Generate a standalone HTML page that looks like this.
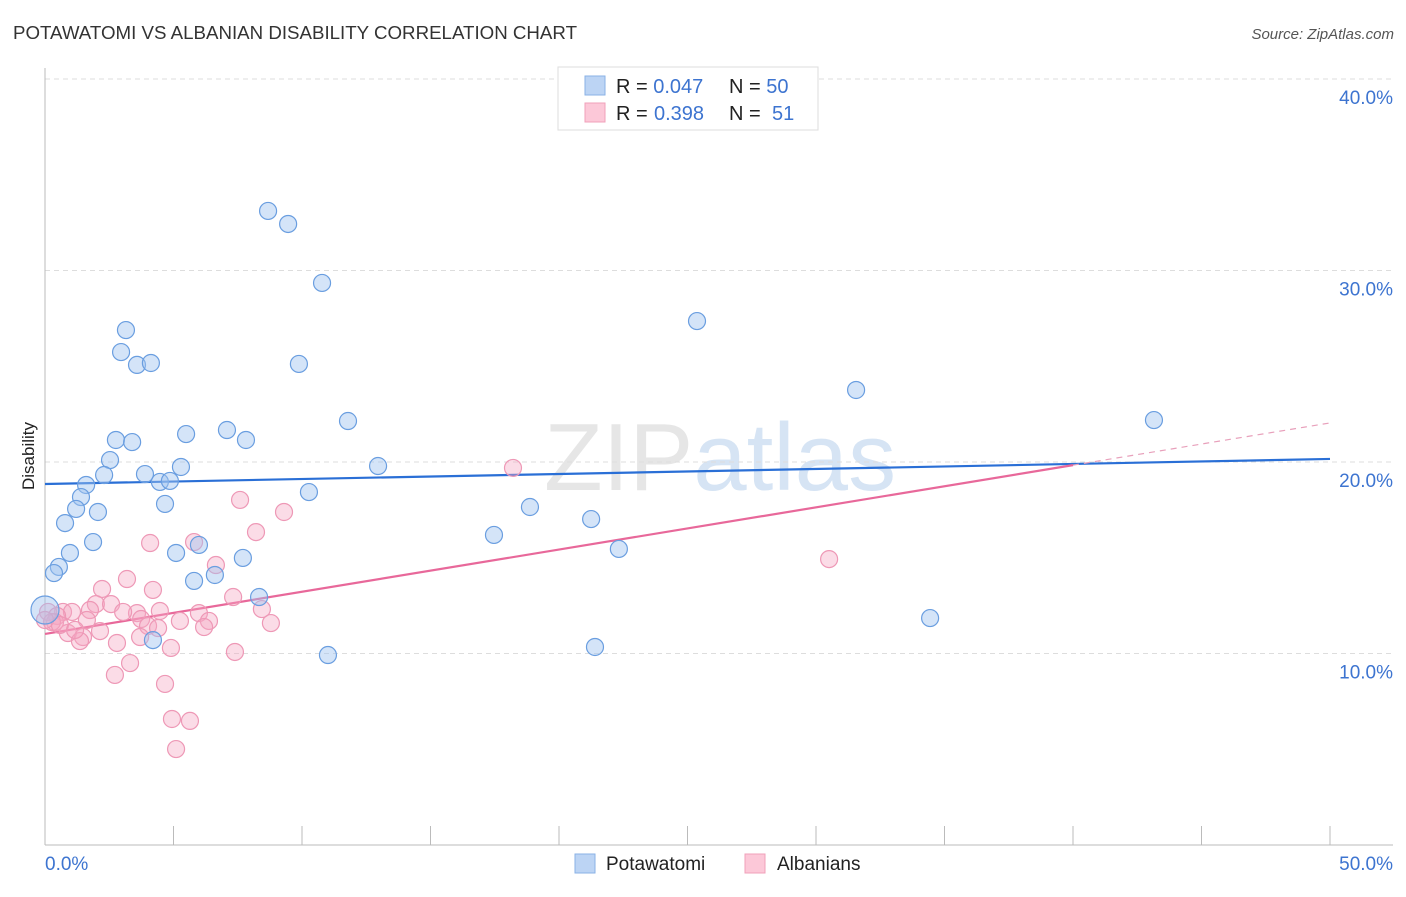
<!DOCTYPE html>
<html><head><meta charset="utf-8"><style>
body{margin:0;background:#fff;font-family:"Liberation Sans",sans-serif;}
svg text{font-family:"Liberation Sans",sans-serif;}
</style></head><body>
<svg id="chart" width="1406" height="892" xmlns="http://www.w3.org/2000/svg">
<text x="13" y="39" font-size="18" fill="#333" textLength="564" lengthAdjust="spacingAndGlyphs">POTAWATOMI VS ALBANIAN DISABILITY CORRELATION CHART</text>
<text x="1394" y="39" font-size="15" fill="#555" text-anchor="end" font-style="italic">Source: ZipAtlas.com</text>
<text x="720" y="490" font-size="96" text-anchor="middle" fill="#e6e6e6" font-family="Liberation Serif, serif">ZIP<tspan fill="#d6e4f4" font-family="Liberation Sans, sans-serif">atlas</tspan></text>
<text transform="translate(34,456) rotate(-90)" font-size="17" fill="#222" text-anchor="middle">Disability</text>
<g id="grid"></g><g id="axes"></g><g id="trend"></g><g id="points"></g>
<g>
<rect x="558" y="67" width="260" height="63" fill="#fff" stroke="#ddd"/>
<rect x="585" y="76" width="20" height="19" fill="#bcd4f4" stroke="#8ab2e6"/>
<rect x="585" y="103" width="20" height="19" fill="#fcc8d8" stroke="#f0a0ba"/>
<text x="616" y="93" font-size="20" fill="#222">R = <tspan fill="#3d74d0">0.047</tspan><tspan x="729">N = </tspan><tspan fill="#3d74d0">50</tspan></text>
<text x="616" y="120" font-size="20" fill="#222">R = <tspan fill="#3d74d0" x="654">0.398</tspan><tspan x="729">N = </tspan><tspan fill="#3d74d0" x="772">51</tspan></text>
</g>
<g>
<rect x="575" y="854" width="20" height="19" fill="#bcd4f4" stroke="#8ab2e6"/>
<text x="606" y="870" font-size="19" fill="#222">Potawatomi</text>
<rect x="745" y="854" width="20" height="19" fill="#fcc8d8" stroke="#f0a0ba"/>
<text x="777" y="870" font-size="19" fill="#222">Albanians</text>
</g>
</svg>
<script>
const blueX=[8.68,9.46,10.78,3.15,2.96,3.58,4.12,9.88,25.37,31.56,43.15,11.79,2.76,3.39,5.49,7.08,7.82,2.53,5.29,12.96,2.30,3.89,4.47,4.86,1.60,1.40,10.27,4.67,1.21,2.06,18.87,21.25,0.78,17.47,1.87,0.97,5.10,5.99,7.70,22.33,0.54,0.35,6.61,5.80,8.33,34.44,0,4.20,11.01,21.40];
const blueY=[33.11,32.43,29.35,26.89,25.74,25.07,25.17,25.12,27.36,23.76,22.19,22.14,21.15,21.04,21.46,21.67,21.15,20.10,19.74,19.79,19.32,19.37,18.96,19.01,18.80,18.17,18.43,17.81,17.55,17.39,17.65,17.02,16.81,16.19,15.82,15.25,15.25,15.67,14.99,15.46,14.52,14.20,14.10,13.79,12.95,11.85,12.27,10.70,9.92,10.34];
const pinkX=[18.21,7.59,9.30,8.21,4.09,5.80,6.65,30.51,3.19,2.22,4.20,7.32,1.98,2.57,1.75,3.58,0.70,1.05,3.04,4.47,5.99,8.44,0.12,0.47,1.63,3.74,0.39,5.25,6.38,8.79,4.01,6.19,2.14,0.89,4.40,1.48,3.70,2.80,1.36,4.90,7.39,3.31,2.72,4.67,4.94,5.64,5.10,0.27,0,0.58,1.17];
const pinkY=[19.69,18.02,17.39,16.34,15.77,15.82,14.62,14.93,13.89,13.37,13.32,12.95,12.58,12.58,12.27,12.11,12.17,12.17,12.17,12.22,12.11,12.32,12.17,11.96,11.75,11.80,11.64,11.70,11.70,11.59,11.44,11.38,11.17,11.07,11.33,10.86,10.86,10.55,10.65,10.29,10.08,9.50,8.88,8.41,6.58,6.48,5.01,11.64,11.75,11.49,11.23];
const yTicks=[10,20,30,40];
const yTickLabels=["10.0%","20.0%","30.0%","40.0%"];
const xTicks=[0,5,10,15,20,25,30,35,40,45,50];
const blueTrend=[18.85,20.16];
const pinkTrend=[11.02,22.04];
const pinkSolidEnd=40;

const X0=45,X1=1330,Y0=845,PY=19.15;
const sx=v=>X0+(X1-X0)*v/50;
const sy=v=>Y0-v*PY;
const NS="http://www.w3.org/2000/svg";
function mk(tag,parent,attrs){const e=document.createElementNS(NS,tag);for(const k in attrs)e.setAttribute(k,attrs[k]);document.getElementById(parent).appendChild(e);return e;}

yTicks.forEach((t,i)=>{
 const l=mk('line','grid',{x1:X0,x2:1393,y1:sy(t),y2:sy(t),stroke:'#ddd','stroke-dasharray':'5,4'});
 
 
 const tx=mk('text','grid',{x:1393,y:sy(t)+25,'font-size':19,fill:'#3d74d0','text-anchor':'end'});
 tx.textContent=yTickLabels[i];
 
 
});
const ax=mk('line','axes',{x1:X0,x2:1393,y1:Y0,y2:Y0,stroke:'#bbb'});


const ay=mk('line','axes',{x1:X0,x2:X0,y1:68,y2:Y0,stroke:'#bbb'});


xTicks.forEach(t=>{
 const l=mk('line','axes',{x1:sx(t),x2:sx(t),y1:Y0,y2:Y0-19,stroke:'#bbb'});
 
 
});
const xl0=mk('text','axes',{x:45,y:870,'font-size':19,fill:'#3d74d0'});xl0.textContent='0.0%';


const xl1=mk('text','axes',{x:1393,y:870,'font-size':19,fill:'#3d74d0','text-anchor':'end'});xl1.textContent='50.0%';



function addPts(xs,ys,fill,stroke,name){
 xs.forEach((x,i)=>{
  const r=(x===0&&name==='potawatomi-point')?14:8.5;
  const c=mk('circle','points',{cx:sx(x),cy:sy(ys[i]),r:r,fill:fill,stroke:stroke,'stroke-width':1.2});
  
  
 });
}
addPts(pinkX,pinkY,'rgba(246,168,194,0.4)','#ee98b6','albanian-point');
addPts(blueX,blueY,'rgba(160,196,240,0.45)','#6a9ee0','potawatomi-point');

const bt=mk('line','trend',{x1:sx(0),y1:sy(blueTrend[0]),x2:sx(50),y2:sy(blueTrend[1]),stroke:'#2a6fd6','stroke-width':2.2});


const pAt=v=>pinkTrend[0]+(pinkTrend[1]-pinkTrend[0])*v/50;
const pt=mk('line','trend',{x1:sx(0),y1:sy(pAt(0)),x2:sx(pinkSolidEnd),y2:sy(pAt(pinkSolidEnd)),stroke:'#e8689a','stroke-width':2.2});


const pd=mk('line','trend',{x1:sx(pinkSolidEnd),y1:sy(pAt(pinkSolidEnd)),x2:sx(50),y2:sy(pAt(50)),stroke:'#e8a0bb','stroke-width':1.2,'stroke-dasharray':'6,5'});


</script>
</body></html>
